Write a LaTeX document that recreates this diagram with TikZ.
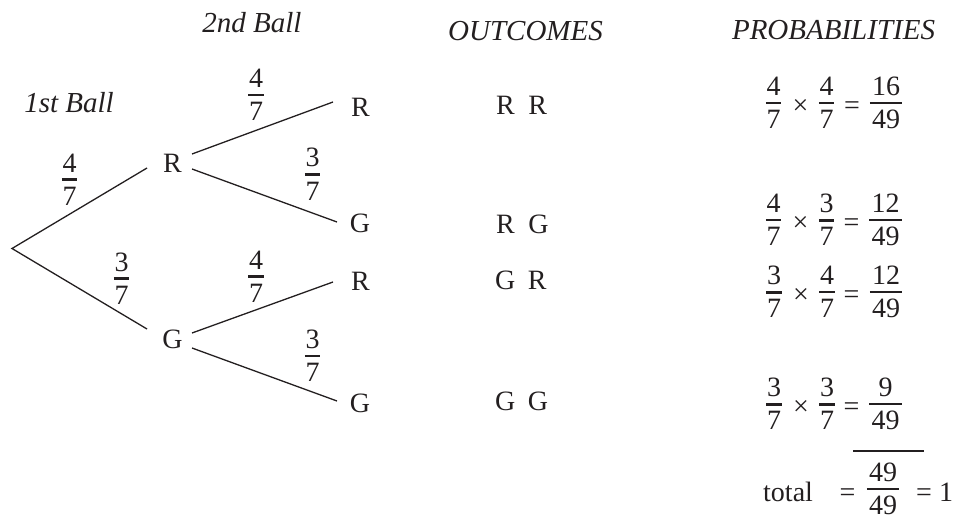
\documentclass[tikz,border=0pt]{standalone}
\usepackage{fontspec}
\setmainfont{Liberation Serif}
\definecolor{ink}{RGB}{35,31,32}
\newcommand\fr[2]{%
  \begingroup
  \setbox0=\hbox{#1}\setbox2=\hbox{#2}%
  \dimen0=\ifdim\wd0>\wd2 \wd0\else\wd2\fi
  \dimen2=1.2\dimen0 \advance\dimen2 by -1.5pt
  \vbox{\offinterlineskip
    \hbox to\dimen2{\hss\box0\hss}%
    \kern6pt
    \hrule height 2.6pt
    \kern6pt
    \hbox to\dimen2{\hss\box2\hss}}%
  \endgroup}
\tikzset{
  lbl/.style={inner sep=0pt, anchor=base, font=\fontsize{28}{32}\selectfont, text=ink},
  head/.style={inner sep=0pt, anchor=base, font=\fontsize{29}{34}\selectfont\itshape, text=ink},
  frc/.style={inner sep=0pt, font=\fontsize{28}{32}\selectfont, text=ink},
  branch/.style={draw=ink, line width=1.3pt},
}
\begin{document}
\begin{tikzpicture}[x=1pt, y=-1pt]
\useasboundingbox (0,0) rectangle (966,519);
% headers
\node[head] (h2) at (252,33) {2nd Ball};
\node[head] (h1) at (69,112) {1st Ball};
\node[head] (ho) at (525.5,40.5) {OUTCOMES};
\node[head] (hp) at (833.5,40) {PROBABILITIES};
% tree
\coordinate (root) at (12,248.5);
\node[lbl] (R1) at (172.5,172) {R};
\node[lbl] (G1) at (172.5,348) {G};
\node[lbl] (RR) at (360.5,116) {R};
\node[lbl] (RG) at (360,232.5) {G};
\node[lbl] (GR) at (360.5,290) {R};
\node[lbl] (GG) at (360,412) {G};
\coordinate (eR1) at (147,168);
\coordinate (eG1) at (147,329);
\coordinate (sRR) at (192,154);  \coordinate (eRR) at (333,102);
\coordinate (sRG) at (192,169);  \coordinate (eRG) at (337,222);
\coordinate (sGR) at (192,333);  \coordinate (eGR) at (333,282);
\coordinate (sGG) at (192,348);  \coordinate (eGG) at (337,401);
\draw[branch] (eR1) -- (root) -- (eG1);
\draw[branch] (sRR) -- (eRR);
\draw[branch] (sRG) -- (eRG);
\draw[branch] (sGR) -- (eGR);
\draw[branch] (sGG) -- (eGG);
\node[frc] (f1) at (69.5,179.5) {\fr{4}{7}};
\node[frc] (f2) at (121.5,278.5) {\fr{3}{7}};
\node[frc] (f3) at (256,95) {\fr{4}{7}};
\node[frc] (f4) at (312.5,174.3) {\fr{3}{7}};
\node[frc] (f5) at (256,276.7) {\fr{4}{7}};
\node[frc] (f6) at (312.5,355.7) {\fr{3}{7}};
% outcomes
\node[lbl, anchor=base west] (o1) at (496,114) {R\hspace{13.5pt}R};
\node[lbl, anchor=base west] (o2) at (496,233) {R\hspace{13.5pt}G};
\node[lbl, anchor=base west] (o3) at (495,289) {G\hspace{12.5pt}R};
\node[lbl, anchor=base west] (o4) at (495,410) {G\hspace{12.5pt}G};
% probabilities
\node[frc] (p1a) at (773.5,103) {\fr{4}{7}};
\node[lbl] (p1x) at (800.5,114) {×};
\node[frc] (p1b) at (826.5,103) {\fr{4}{7}};
\node[lbl] (p1e) at (852,114) {=};
\node[frc] (p1r) at (886,103) {\fr{16}{49}};
\node[frc] (p2a) at (773.5,220) {\fr{4}{7}};
\node[lbl] (p2x) at (800.5,231) {×};
\node[frc] (p2b) at (826.5,220) {\fr{3}{7}};
\node[lbl] (p2e) at (851.5,231) {=};
\node[frc] (p2r) at (885.5,220) {\fr{12}{49}};
\node[frc] (p3a) at (774,292) {\fr{3}{7}};
\node[lbl] (p3x) at (801,303) {×};
\node[frc] (p3b) at (827,292) {\fr{4}{7}};
\node[lbl] (p3e) at (851.5,303) {=};
\node[frc] (p3r) at (886,292) {\fr{12}{49}};
\node[frc] (p4a) at (774,404) {\fr{3}{7}};
\node[lbl] (p4x) at (801,415) {×};
\node[frc] (p4b) at (827,404) {\fr{3}{7}};
\node[lbl] (p4e) at (851.5,415) {=};
\node[frc] (p4r) at (885.5,404) {\fr{9}{49}};
% total
\coordinate (olA) at (853,451);
\coordinate (olB) at (924,451);
\draw[draw=ink, line width=1.2pt] (olA) -- (olB);
\node[lbl, anchor=base west] (tot) at (763,501) {total};
\node[lbl] (te) at (847.5,501) {=};
\node[frc] (tf) at (883,489) {\fr{49}{49}};
\node[lbl, anchor=base west] (t1) at (916,501) {= 1};
\end{tikzpicture}
\end{document}
